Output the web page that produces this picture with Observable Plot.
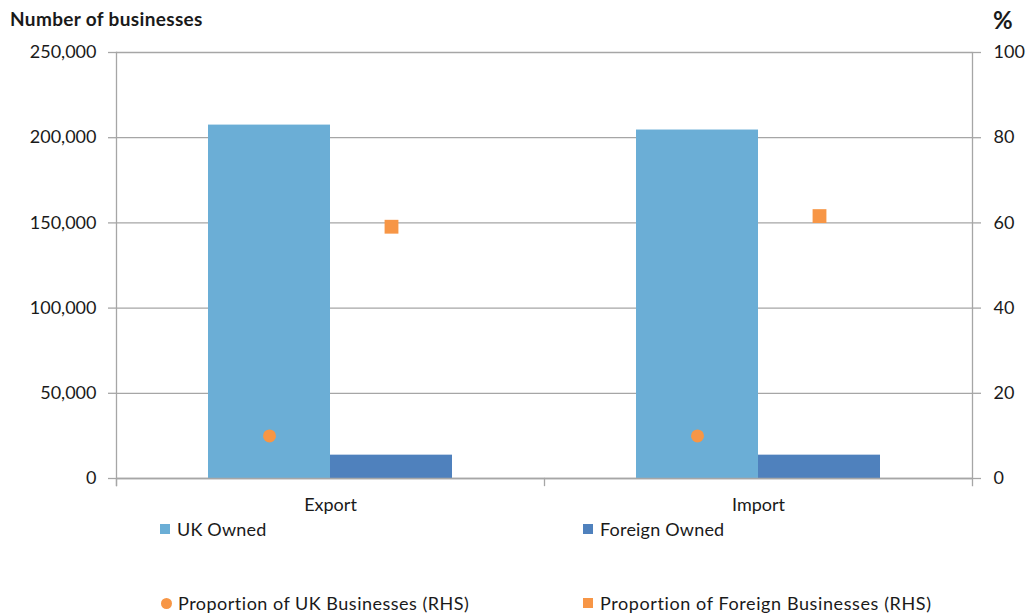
<!DOCTYPE html>
<html><head><meta charset="utf-8">
<script src="https://cdn.jsdelivr.net/npm/d3@7"></script>
<script src="https://cdn.jsdelivr.net/npm/@observablehq/plot@0.6"></script>
<style>
body{margin:0;background:#fff;}
#wrap{position:relative;width:1029px;height:615px;font-family:Lato,"Open Sans",sans-serif;color:#1a1a1a;overflow:hidden;background:#fff}
#chart{position:absolute;left:0;top:0}
.abs{position:absolute;white-space:nowrap;line-height:20px;height:20px}
.mk{position:absolute}
</style></head><body><div id="wrap"><div id="chart"></div></div>
<script>
// ---- data ----
const categories = ["Export", "Import"];
const seriesNames = ["UK Owned", "Foreign Owned"];
const ukOwned = [207400, 204500];
const foreignOwned = [13700, 13700];
const ukProportion = [10.0, 10.0];
const foreignProportion = [59.1, 61.6];
const leftTicks = [0, 50000, 100000, 150000, 200000, 250000];
const rightTicks = [0, 20, 40, 60, 80, 100];
const leftTitle = "Number of businesses";
const rightTitle = "%";
const legendLabels = ["UK Owned", "Foreign Owned", "Proportion of UK Businesses (RHS)", "Proportion of Foreign Businesses (RHS)"];

// ---- style ----
const barColors = ["#6BAED6", "#4F81BD"];
const orange = "#F79646";
const gridColor = "#A6A6A6";
const textColor = "#1a1a1a";

const W = 1029, H = 520, ML = 116, MR = 57, MT = 52, MB = 42;
const innerH = H - MT - MB;
const pctToCount = leftTicks[leftTicks.length - 1] / rightTicks[rightTicks.length - 1];

const bars = [];
categories.forEach((c, i) => {
  bars.push({category: c, series: seriesNames[0], value: ukOwned[i]});
  bars.push({category: c, series: seriesNames[1], value: foreignOwned[i]});
});
const ukPts = categories.map((c, i) => ({category: c, series: seriesNames[0], pct: ukProportion[i]}));
const fgPts = categories.map((c, i) => ({category: c, series: seriesNames[1], pct: foreignProportion[i]}));

const chart = Plot.plot({
  width: W, height: H,
  marginLeft: ML, marginRight: MR, marginTop: MT, marginBottom: MB,
  fx: {domain: categories, padding: 0, axis: null},
  x: {domain: seriesNames, paddingInner: 0, paddingOuter: 0.747, axis: null},
  y: {domain: [0, leftTicks[leftTicks.length - 1]], axis: null},
  color: {domain: seriesNames, range: barColors},
  style: {fontFamily: "Lato, 'Open Sans', sans-serif", fontSize: "18px", color: textColor, background: "white", overflow: "visible"},
  marks: [
    Plot.gridY(leftTicks, {stroke: gridColor, strokeOpacity: 1, strokeWidth: 1.3}),
    Plot.barY(bars, {fx: "category", x: "series", y: "value", fill: "series"}),
    Plot.ruleY([0], {stroke: gridColor, strokeWidth: 1.3}),
    Plot.dot(ukPts, {fx: "category", x: "series", y: d => d.pct * pctToCount, symbol: "circle", r: 6.5, fill: orange, stroke: null}),
    Plot.dot(fgPts, {fx: "category", x: "series", y: d => d.pct * pctToCount, symbol: "square", r: 7.8, fill: orange, stroke: null}),
    Plot.axisY(leftTicks, {anchor: "left", tickSize: 8, tickPadding: 12, tickFormat: d3.format(","), stroke: gridColor, strokeWidth: 1.3, fill: textColor, label: null}),
    Plot.axisY(rightTicks.map(v => v * pctToCount), {anchor: "right", tickSize: 8, tickPadding: 13, tickFormat: d => String(Math.round(d / pctToCount)), stroke: gridColor, strokeWidth: 1.3, fill: textColor, label: null}),
    Plot.axisFx({anchor: "bottom", tickSize: 0, tickPadding: 20, label: null, fill: textColor}),
    Plot.frame({anchor: "left", facetAnchor: "left", stroke: gridColor, strokeWidth: 1.3, insetBottom: -7}),
    Plot.frame({anchor: "right", facetAnchor: "right", stroke: gridColor, strokeWidth: 1.3, insetBottom: -7}),
    Plot.frame({anchor: "left", stroke: gridColor, strokeWidth: 1.3, insetTop: innerH, insetBottom: -7})
  ]
});
document.getElementById("chart").appendChild(chart);

const wrap = document.getElementById("wrap");
function addText(txt, left, cy, opts = {}) {
  const d = document.createElement("div");
  d.className = "abs";
  d.textContent = txt;
  d.style.left = left + "px";
  d.style.top = (cy - 10) + "px";
  d.style.fontSize = (opts.size || 18) + "px";
  if (opts.spacing) d.style.letterSpacing = opts.spacing + "px";
  if (opts.bold) d.style.fontWeight = "bold";
  wrap.appendChild(d);
}
function addMarker(left, cy, size, color, round) {
  const m = document.createElement("div");
  m.className = "mk";
  m.style.left = left + "px";
  m.style.top = (cy - size / 2) + "px";
  m.style.width = size + "px";
  m.style.height = size + "px";
  m.style.background = color;
  if (round) m.style.borderRadius = "50%";
  wrap.appendChild(m);
}
addText(leftTitle, 10, 19, {bold: true, size: 19, spacing: 0.35});
addText(rightTitle, 993, 20, {bold: true, size: 24});

// legend
addMarker(160, 529, 10, barColors[0], false);
addText(legendLabels[0], 177, 529, {spacing: 0.2});
addMarker(583, 529, 10, barColors[1], false);
addText(legendLabels[1], 600, 529, {spacing: 0.2});
addMarker(161, 603, 11, orange, true);
addText(legendLabels[2], 178, 603, {spacing: 0.5});
addMarker(583, 603, 10, orange, false);
addText(legendLabels[3], 600, 603, {spacing: 0.6});
</script>
</body></html>
